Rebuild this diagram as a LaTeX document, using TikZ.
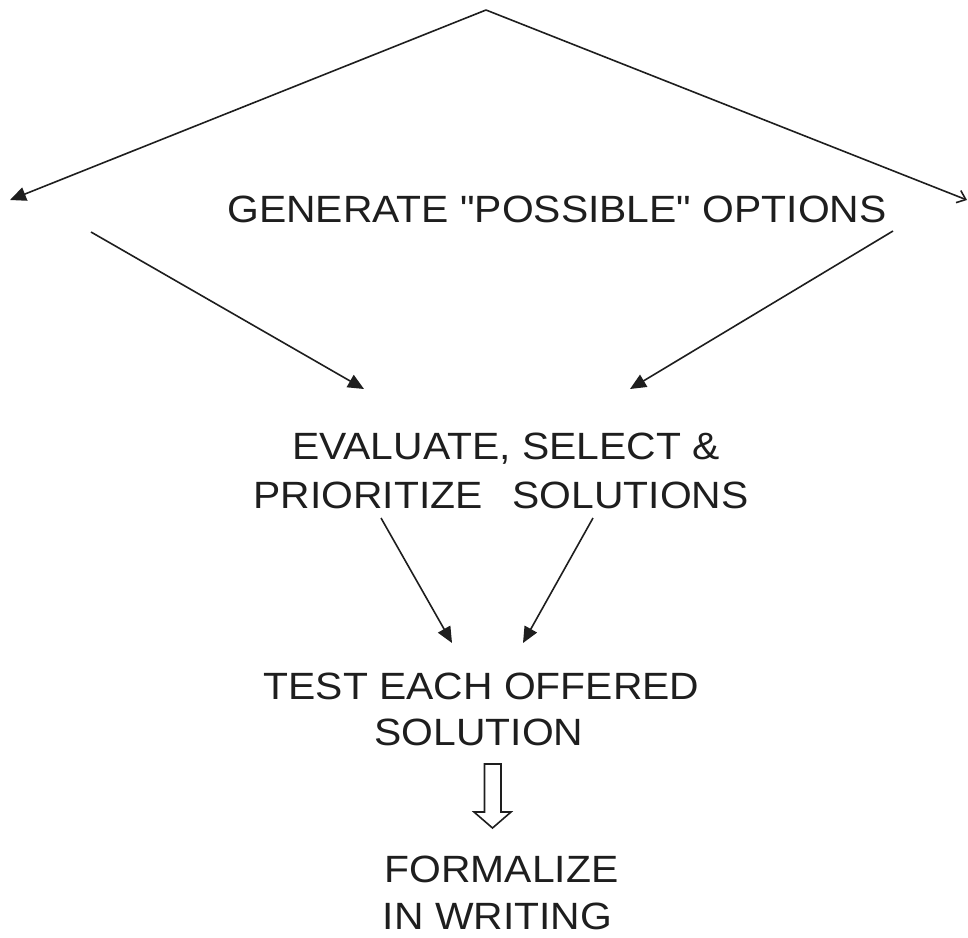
\documentclass[tikz,border=0pt]{standalone}
\usepackage{fontspec}
\setmainfont{Liberation Sans}[FakeStretch=1.075, Ligatures=TeXOff]
\usetikzlibrary{arrows.meta}
\definecolor{ink}{HTML}{1E1E1E}
\tikzset{
  label text/.style={anchor=base, inner sep=0pt, text=ink,
    font=\fontsize{38}{46}\selectfont},
  link/.style={draw=ink, line width=1.6pt,
    -{Triangle[length=16pt, width=14pt]}},
  barblink/.style={draw=ink, line width=1.6pt,
    -{Straight Barb[length=8pt, width=13pt]}},
  hollow arrow/.style={draw=ink, line width=1.6pt, fill=white, line join=miter}
}
\begin{document}
\begin{tikzpicture}[x=1pt, y=-1pt]
  \useasboundingbox (0,0) rectangle (968,937);

  % text lines
  \node[label text] (gen)  at (557,222) {GENERATE "POSSIBLE" OPTIONS};
  \node[label text] (eval) at (506,459) {EVALUATE, SELECT \&};
  \node[label text] (prio) at (501,508) {PRIORITIZE\hspace{30pt}SOLUTIONS};
  \node[label text] (test) at (481.5,699) {TEST EACH OFFERED};
  \node[label text] (sol)  at (479,745) {SOLUTION};
  \node[label text] (form) at (501.5,882) {FORMALIZE};
  \node[label text] (writ) at (497.5,929) {IN WRITING};

  % connector end points
  \coordinate (apex) at (486,10);
  \coordinate (farL) at (10,200);
  \coordinate (farR) at (967,200);
  \coordinate (genL) at (91,232);
  \coordinate (genR) at (893,231);
  \coordinate (evalL) at (364,389);
  \coordinate (evalR) at (630,389);
  \coordinate (prioL) at (381,518);
  \coordinate (prioR) at (593,518);
  \coordinate (testL) at (452,643);
  \coordinate (testR) at (523,643);

  % top fork
  \draw[link] (apex) -- (farL);
  \draw[barblink] (apex) -- (farR);

  % into evaluation
  \draw[link] (genL) -- (evalL);
  \draw[link] (genR) -- (evalR);

  % into testing
  \draw[link] (prioL) -- (testL);
  \draw[link] (prioR) -- (testR);

  % hollow block arrow down to the final step
  \coordinate (blk) at (492.5,764);
  \draw[hollow arrow] (blk) ++(-8,0) -- ++(0,48) -- ++(-10.5,0)
    -- (492.5,828) -- (511,812) -- (501,812) -- (501,764) -- cycle;
\end{tikzpicture}
\end{document}
